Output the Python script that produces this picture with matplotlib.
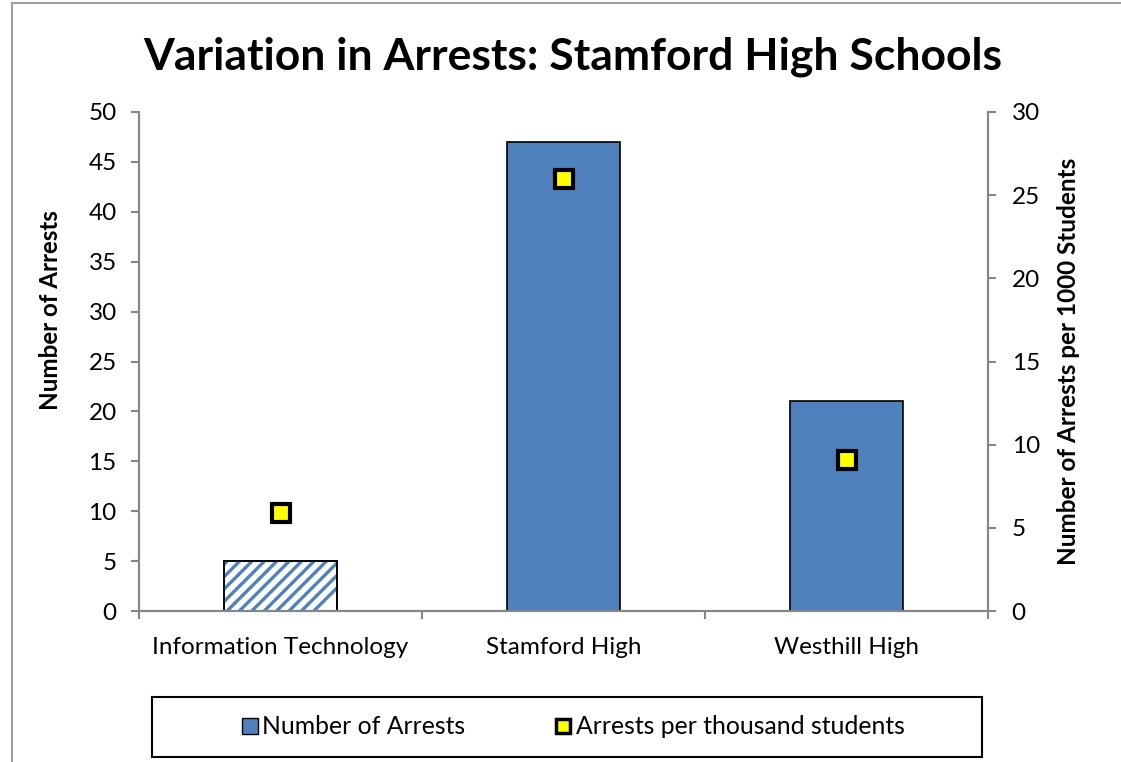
import matplotlib
matplotlib.use("Agg")
import numpy as np
import matplotlib.pyplot as plt
from matplotlib.lines import Line2D
from matplotlib.patches import Rectangle
from matplotlib.transforms import IdentityTransform

plt.rcParams['font.family'] = ['Lato', 'DejaVu Sans']

schools = ["Information Technology", "Stamford High", "Westhill High"]
arrests = [5, 47, 21]
per_thousand = [5.9, 26.0, 9.1]

blue = '#4F81BD'
gray = '#868686'

fig = plt.figure(figsize=(11.21, 7.62), dpi=100)
ax = fig.add_axes([139/1121, 1 - 611/762, (988-139)/1121, (611-112)/762])
ax2 = ax.twinx()

x = np.arange(len(schools))
bars = ax.bar(x, arrests, width=0.4, color=blue, edgecolor='black', linewidth=1.2, zorder=2)

# the first school gets a white fill with blue diagonal stripes, clipped to its bar
striped = bars[0]
striped.set_facecolor('white')
bb = striped.get_window_extent()
step = 12.4
span = bb.width + bb.height
for c in np.arange(-bb.height, bb.width + step, step):
    x0 = bb.x0 + c
    stripe = Line2D([x0 - span, x0 + span], [bb.y0 - span, bb.y0 + span],
                    transform=IdentityTransform(), color=blue, linewidth=2.4,
                    solid_capstyle='butt', zorder=2.05)
    ax.add_line(stripe)
    stripe.set_clip_box(None)
    stripe.set_clip_path(striped.get_path(), striped.get_transform())
ax.bar(x[:1], arrests[:1], width=0.4, fill=False, edgecolor='black', linewidth=1.2, zorder=2.1)

ax2.plot(x, per_thousand, linestyle='none', marker='s', markersize=13,
         markerfacecolor='#FFFF00', markeredgecolor='black', markeredgewidth=3, zorder=3)

ax.set_xlim(-0.5, 2.5)
ax.set_ylim(0, 50)
ax2.set_ylim(0, 30)
ax.set_yticks(range(0, 51, 5))
ax2.set_yticks(range(0, 31, 5))
ax.set_xticks(x)
ax.set_xticklabels(schools, fontsize=17.5)
ax.set_xticks([-0.5, 0.5, 1.5, 2.5], minor=True)
ax.tick_params(axis='x', which='major', length=0, pad=18.5)
ax.tick_params(axis='x', which='minor', length=6, color=gray, width=1.5, direction='out')
ax.tick_params(axis='y', labelsize=17.5, length=6, color=gray, width=1.5, pad=10)
ax2.tick_params(axis='y', labelsize=17.5, length=6, color=gray, width=1.5, pad=11)

for a in (ax, ax2):
    a.spines['top'].set_visible(False)
    for s in ('left', 'right', 'bottom'):
        a.spines[s].set_color(gray)
        a.spines[s].set_linewidth(1.5)

ax.set_ylabel("Number of Arrests", fontsize=17.4, fontweight='bold')
ax.yaxis.set_label_coords((62 - 139) / 849, (611 - 310) / 499)
ax2.set_ylabel("Number of Arrests per 1000 Students", fontsize=17.5, fontweight='bold')
ax2.yaxis.set_label_coords((1057 - 139) / 849, 0.5)

fig.text(573/1121, 1 - 57/762, "Variation in Arrests: Stamford High Schools",
         ha='center', va='center', fontsize=32, fontweight='bold')

# outer chart border
fig.patches.append(Rectangle((12/1121, -0.05), 1.2, 0.05 + 1 - 3/762, transform=fig.transFigure,
                             fill=False, edgecolor='#A0A0A0', linewidth=1.5))

# legend frame and entries
fig.patches.append(Rectangle((152/1121, 1 - 757/762), (982-152)/1121, 60/762,
                             transform=fig.transFigure, fill=False, edgecolor='black', linewidth=1.5))
handles = [
    Line2D([], [], linestyle='none', marker='s', markersize=11, markerfacecolor=blue,
           markeredgecolor='black', markeredgewidth=1.0),
    Line2D([], [], linestyle='none', marker='s', markersize=9.5, markerfacecolor='#FFFF00',
           markeredgecolor='black', markeredgewidth=2.5),
]
fig.legend(handles, ["Number of Arrests", "Arrests per thousand students"],
           loc='center', bbox_to_anchor=(573/1121, 1 - 727/762), ncol=2, frameon=False,
           fontsize=17.8, handletextpad=0.15, columnspacing=3.6, handlelength=0.7)

fig.savefig("out.png", dpi=100)
